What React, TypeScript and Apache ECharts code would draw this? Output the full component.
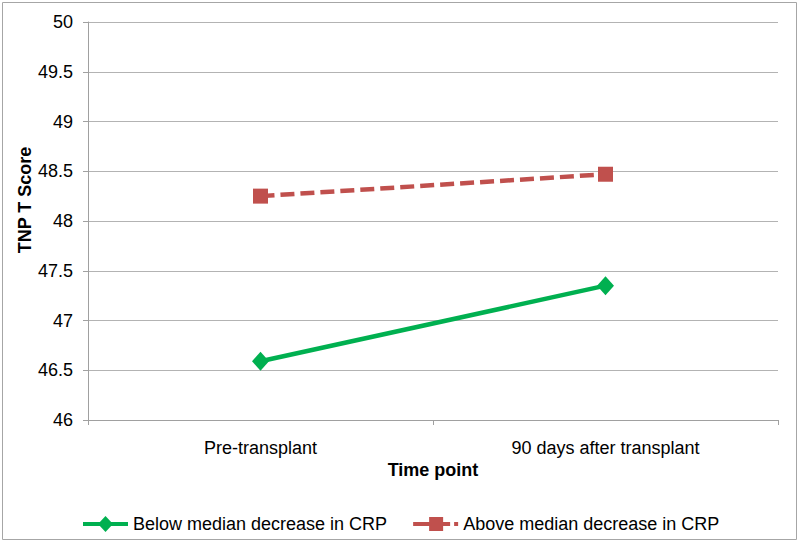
import React, { useEffect, useRef } from "react";
import * as echarts from "echarts";

const categories = ["Pre-transplant", "90 days after transplant"];
const belowMedian = [46.59, 47.35];
const aboveMedian = [48.25, 48.47];
const seriesNames = ["Below median decrease in CRP", "Above median decrease in CRP"];
const yMin = 46;
const yMax = 50;
const yStep = 0.5;

const FONT = "Liberation Sans, Arial, sans-serif";
const GREEN = "#00b050";
const RED = "#c0504d";

const greenIcon = "path://M0 6H45V10H0Z M22.5 0L30 8L22.5 16L15 8Z";
const redIcon = "path://M0 6H16V10H0Z M16 1H30V15H16Z M30 6H37V10H30Z M41 6H45V10H41Z";

export default function App() {
  const ref = useRef<HTMLDivElement>(null);
  useEffect(() => {
    if (!ref.current) return;
    const chart = echarts.init(ref.current, undefined, { renderer: "svg" });
    chart.setOption({
      animation: false,
      backgroundColor: "#ffffff",
      textStyle: { fontFamily: FONT },
      grid: { left: 88, right: 22, top: 22, bottom: 123, containLabel: false },
      xAxis: {
        type: "category",
        data: categories,
        boundaryGap: true,
        axisLine: { show: true, lineStyle: { color: "#a0a0a0", width: 1 } },
        axisTick: { show: true, length: 5, alignWithLabel: false, lineStyle: { color: "#a0a0a0" } },
        axisLabel: { color: "#000", fontSize: 18, fontFamily: FONT, margin: 19 },
        splitLine: { show: false },
      },
      yAxis: {
        type: "value",
        min: yMin,
        max: yMax,
        interval: yStep,
        axisLine: { show: true, lineStyle: { color: "#a0a0a0", width: 1 } },
        axisTick: { show: true, length: 5, lineStyle: { color: "#a0a0a0" } },
        axisLabel: { color: "#000", fontSize: 18, fontFamily: FONT, margin: 15 },
        splitLine: { show: true, lineStyle: { color: "#b3b3b3", width: 1 } },
      },
      legend: {
        left: 78,
        top: 510,
        itemWidth: 45,
        itemHeight: 16,
        itemGap: 26,
        textStyle: { color: "#000", fontSize: 18, fontFamily: FONT },
        itemStyle: { borderWidth: 0 },
        data: [
          { name: seriesNames[0], icon: greenIcon, itemStyle: { color: GREEN, borderWidth: 0 } },
          { name: seriesNames[1], icon: redIcon, itemStyle: { color: RED, borderWidth: 0 } },
        ],
      },
      graphic: [
        {
          type: "rect",
          shape: { x: 2.5, y: 2.5, width: 794, height: 537 },
          style: { fill: "none", stroke: "#a6a6a6", lineWidth: 1 },
          silent: true,
          z: -1,
        },
        {
          type: "text",
          x: 25,
          y: 200,
          rotation: Math.PI / 2,
          style: {
            text: "TNP T Score",
            fontSize: 18,
            fontWeight: "bold",
            fontFamily: FONT,
            fill: "#000",
            textAlign: "center",
            textVerticalAlign: "middle",
          },
        },
        {
          type: "text",
          x: 433,
          y: 470,
          style: {
            text: "Time point",
            fontSize: 18,
            fontWeight: "bold",
            fontFamily: FONT,
            fill: "#000",
            textAlign: "center",
            textVerticalAlign: "middle",
          },
        },
      ],
      series: [
        {
          name: seriesNames[0],
          type: "line",
          data: belowMedian,
          symbol: "diamond",
          symbolSize: [17, 19],
          lineStyle: { color: GREEN, width: 4.5 },
          itemStyle: { color: GREEN, borderWidth: 0 },
          z: 3,
        },
        {
          name: seriesNames[1],
          type: "line",
          data: aboveMedian,
          symbol: "rect",
          symbolSize: 15,
          lineStyle: { color: RED, width: 4.5, type: [14, 6] },
          itemStyle: { color: RED, borderWidth: 0 },
          z: 3,
        },
      ],
    });
    return () => chart.dispose();
  }, []);
  return (
    <div
      ref={ref}
      style={{ position: "fixed", left: 0, top: 0, width: 800, height: 543 }}
    />
  );
}
